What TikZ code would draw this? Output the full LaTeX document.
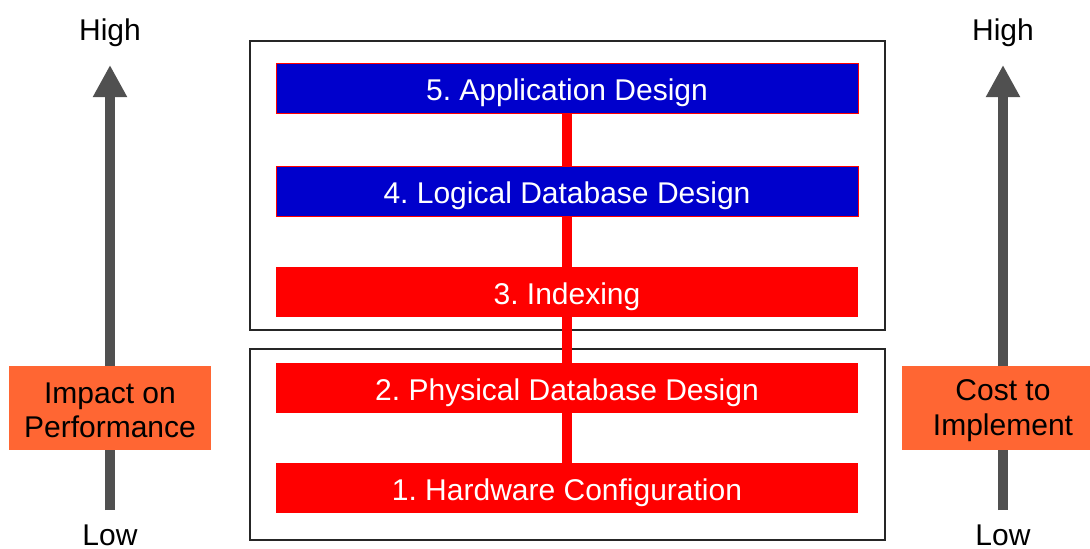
\documentclass[tikz,border=0pt]{standalone}
\usepackage{fontspec}
\setmainfont{Liberation Sans}
\usetikzlibrary{arrows.meta}
\definecolor{barblue}{HTML}{0000CC}
\definecolor{barred}{HTML}{FF0000}
\definecolor{tagorange}{HTML}{FF6633}
\definecolor{axisgray}{HTML}{505050}
\begin{document}
\frenchspacing
\begin{tikzpicture}[x=1pt,y=-1pt,
  every node/.style={font=\fontsize{30}{34.5}\selectfont},
  layer/.style={rectangle, minimum width=582pt, minimum height=50pt, inner sep=0pt,
    text=white, text height=24pt, text depth=0pt},
  bluelayer/.style={layer, fill=barblue, draw=barred, line width=1pt},
  redlayer/.style={layer, fill=barred},
  group/.style={draw=black!85, line width=1.2pt},
  tag/.style={rectangle, fill=tagorange, minimum width=202pt, minimum height=84pt, inner sep=0pt,
    align=center, text=black},
  level/.style={inner sep=0pt, text=black, anchor=base},
  axis/.style={draw=axisgray, line width=10pt, -{Triangle[width=32pt,length=32pt]}},
  link/.style={draw=barred, line width=10pt}
]
\useasboundingbox (0,0) rectangle (1090,549);

% grouping frames
\draw[group] (250,41) rectangle (885,330);
\draw[group] (250,349) rectangle (885,540);

% layers
\node[bluelayer] (l5) at (567,88) {5. Application Design};
\node[bluelayer] (l4) at (567,191.5) {4. Logical Database Design};
\node[redlayer]  (l3) at (567,292) {3. Indexing};
\node[redlayer]  (l2) at (567,388) {2. Physical Database Design};
\node[redlayer]  (l1) at (567,488) {1. Hardware Configuration};

% spine joining the layers
\path[link] (l5.south) -- (l4.north);
\path[link] (l4.south) -- (l3.north);
\path[link] (l3.south) -- (l2.north);
\path[link] (l2.south) -- (l1.north);

% left axis
\node[level] (hiL) at (110,40) {High};
\node[level] (loL) at (110,545) {Low};
\coordinate (lbotL) at (110,510);
\coordinate (ltopL) at (110,65);
\path[axis] (lbotL) -- (ltopL);
\node[tag] (impact) at (110,408) {};
\node[align=center, text=black] (impactText) at (110,410.5) {Impact on\\Performance};

% right axis
\node[level] (hiR) at (1003,40) {High};
\node[level] (loR) at (1003,545) {Low};
\coordinate (lbotR) at (1003,510);
\coordinate (ltopR) at (1003,65);
\path[axis] (lbotR) -- (ltopR);
\node[tag] (cost) at (1003,408) {};
\node[align=center, text=black] (costText) at (1003,410.5) {Cost to\\Implement};
\end{tikzpicture}
\end{document}
